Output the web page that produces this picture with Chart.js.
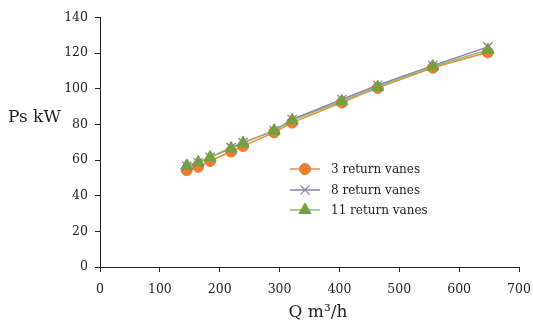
<!DOCTYPE html>
<html>
<head>
<meta charset="utf-8">
<script src="https://cdn.jsdelivr.net/npm/chart.js@4/dist/chart.umd.min.js"></script>
<style>
  html, body { margin: 0; padding: 0; background: #fff; }
  #wrap { width: 533px; height: 329px; }
</style>
</head>
<body>
<div id="wrap"><canvas id="c" width="533" height="329"></canvas></div>
<script>
// Flow rate Q (m³/h) and shaft power Ps (kW) for three return-vane counts
const flowQ = [145, 164, 184, 219, 239, 291, 321, 404, 464, 556, 648];
const power3Vanes = [54.3, 56.2, 59.5, 64.8, 67.8, 75.5, 81.0, 92.3, 100.5, 111.8, 120.5];
const power8Vanes = [56.5, 58.5, 61.5, 67.0, 69.8, 76.5, 82.8, 94.0, 102.0, 113.0, 123.5];
const power11Vanes = [56.8, 58.8, 61.5, 66.5, 69.5, 76.5, 82.3, 93.0, 101.0, 112.5, 121.8];
const seriesNames = ['3 return vanes', '8 return vanes', '11 return vanes'];
const xTicks = [0, 100, 200, 300, 400, 500, 600, 700];
const yTicks = [0, 20, 40, 60, 80, 100, 120, 140];

const FONT = '"DejaVu Serif", serif';
const INK = '#231f20';

const toPoints = (ys) => flowQ.map((q, i) => ({ x: q, y: ys[i] }));

const styles = [
  { line: '#f08a3c', fill: '#ee7d31', pointStyle: 'circle', radius: 5.5, order: 3 },
  { line: '#8c7ab4', fill: '#8c7ab4', pointStyle: 'crossRot', radius: 6.5, order: 2 },
  { line: '#93bb6a', fill: '#74a040', pointStyle: 'triangle', radius: 7, order: 1 }
];
const values = [power3Vanes, power8Vanes, power11Vanes];

const datasets = values.map((ys, i) => ({
  label: seriesNames[i],
  data: toPoints(ys),
  borderColor: styles[i].line,
  backgroundColor: styles[i].fill,
  pointBorderColor: styles[i].fill,
  pointBackgroundColor: styles[i].fill,
  pointStyle: styles[i].pointStyle,
  pointRadius: styles[i].radius,
  pointBorderWidth: styles[i].pointStyle === 'crossRot' ? 1.3 : 1,
  borderWidth: 1.5,
  tension: 0,
  order: styles[i].order
}));

// Legend with a line segment and marker per series, plus the two axis titles
const annotations = {
  id: 'annotations',
  afterDraw(chart) {
    const ctx = chart.ctx;
    ctx.save();
    // legend
    const rowY = [169, 190, 210];
    ctx.font = '12px ' + FONT;
    ctx.textBaseline = 'middle';
    ctx.textAlign = 'left';
    styles.forEach((s, i) => {
      ctx.strokeStyle = s.line;
      ctx.lineWidth = 1.5;
      ctx.beginPath();
      ctx.moveTo(290, rowY[i]);
      ctx.lineTo(320, rowY[i]);
      ctx.stroke();
      ctx.fillStyle = s.fill;
      ctx.strokeStyle = s.fill;
      ctx.lineWidth = s.pointStyle === 'crossRot' ? 1.3 : 1;
      Chart.helpers.drawPoint(ctx, { pointStyle: s.pointStyle, radius: s.radius, rotation: 0, borderWidth: ctx.lineWidth }, 305, rowY[i]);
      ctx.fillStyle = INK;
      ctx.fillText(seriesNames[i], 331, rowY[i] + 1);
    });
    // axis titles
    ctx.fillStyle = INK;
    ctx.font = '17px ' + FONT;
    ctx.textAlign = 'left';
    ctx.fillText('Ps kW', 8, 118);
    ctx.textAlign = 'center';
    ctx.fillText('Q m\u00b3/h', 318, 313);
    ctx.restore();
  }
};

new Chart(document.getElementById('c'), {
  type: 'line',
  data: { datasets },
  options: {
    responsive: false,
    animation: false,
    layout: { padding: { top: 17.5, right: 14, bottom: 0, left: 0 } },
    plugins: { legend: { display: false }, tooltip: { enabled: false } },
    scales: {
      x: {
        type: 'linear',
        min: 0,
        max: 700,
        afterFit: (s) => { s.height = 62; s.paddingRight = 0; s.paddingLeft = 0; },
        afterBuildTicks: (s) => { s.ticks = xTicks.map(v => ({ value: v })); },
        grid: { drawOnChartArea: false, drawTicks: true, tickLength: 5, color: '#222', lineWidth: 1 },
        border: { color: '#222', width: 1 },
        ticks: { font: { family: FONT, size: 12.5 }, color: INK, padding: 10, maxRotation: 0 }
      },
      y: {
        type: 'linear',
        min: 0,
        max: 140,
        afterFit: (s) => { s.width = 100; s.paddingTop = 0; s.paddingBottom = 0; },
        afterBuildTicks: (s) => { s.ticks = yTicks.map(v => ({ value: v })); },
        grid: { drawOnChartArea: false, drawTicks: true, tickLength: 5, color: '#222', lineWidth: 1 },
        border: { color: '#222', width: 1 },
        ticks: { font: { family: FONT, size: 12.5 }, color: INK, padding: 7 }
      }
    }
  },
  plugins: [annotations]
});
</script>
</body>
</html>
